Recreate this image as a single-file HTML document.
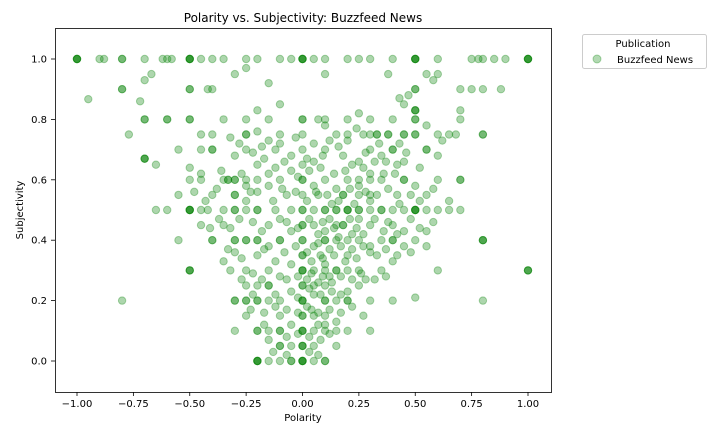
<!DOCTYPE html>
<html><head><meta charset="utf-8"><style>
body{margin:0;background:#fff;}
svg{display:block;font-family:"DejaVu Sans","Liberation Sans",sans-serif;}
</style></head><body>
<svg id="chart" width="725" height="432" viewBox="0 0 725 432" xmlns="http://www.w3.org/2000/svg">
<rect width="725" height="432" fill="#fff"/>
<text x="303" y="22" font-size="12" text-anchor="middle" fill="#000">Polarity vs. Subjectivity: Buzzfeed News</text>
<g id="points"></g>
<rect x="55.5" y="28.5" width="496" height="364" fill="none" stroke="#000" stroke-width="0.8"/>
<g id="xticks"></g>
<g id="yticks"></g>
<text x="303" y="421" font-size="10" text-anchor="middle">Polarity</text>
<text transform="translate(23,210) rotate(-90)" font-size="10" text-anchor="middle">Subjectivity</text>
<g>
<rect x="582.5" y="34.5" width="124" height="34" rx="2" fill="#fff" stroke="#ccc"/>
<text x="643" y="47" font-size="10" text-anchor="middle">Publication</text>
<circle cx="597" cy="59" r="4" fill="#008000" fill-opacity="0.3" stroke="#008000" stroke-opacity="0.3"/>
<text x="617" y="63" font-size="10">Buzzfeed News</text>
</g>
</svg>
<script>
const xTicks = [-1, -0.75, -0.5, -0.25, 0, 0.25, 0.5, 0.75, 1];
const xTickLabels = ["\u22121.00","\u22120.75","\u22120.50","\u22120.25","0.00","0.25","0.50","0.75","1.00"];
const yTicks = [0, 0.2, 0.4, 0.6, 0.8, 1.0];
const yTickLabels = ["0.0","0.2","0.4","0.6","0.8","1.0"];
const polaritySubjectivity = [
[-1,1],[-1,1],[-1,1],[-1,1],[-0.9,1],[-0.88,1],[-0.8,1],[-0.8,1],[-0.7,1],[-0.62,1],[-0.6,1],[-0.58,1],[-0.5,1],[-0.5,1],[-0.5,1],[-0.5,1],[-0.45,1],[-0.4,1],[-0.35,1],[-0.25,1],[-0.2,1],[-0.1,1],[-0.05,1],[0,1],[0,1],[0,1],[0,1],[0.05,1],[0.1,1],[0.2,1],[0.25,1],[0.3,1],[0.4,1],[0.5,1],[0.5,1],[0.5,1],[0.5,1],[0.6,1],[0.75,1],[0.78,1],[0.8,1],[0.85,1],[0.9,1],[1,1],[1,1],[1,1],[1,1],
[-0.95,0.867],[-0.7,0.93],[-0.67,0.95],[0.55,0.95],[0.6,0.95],[0.58,0.93],[0.8,0.9],[0.75,0.9],[0.7,0.9],[0.88,0.9],[-0.8,0.9],[-0.8,0.9],[-0.5,0.9],[-0.5,0.9],[-0.4,0.9],[-0.42,0.9],[-0.25,0.97],[-0.15,0.92],[-0.3,0.95],[0.1,0.95],[0.38,0.95],[0.43,0.87],[0.5,0.9],[0.5,0.9],[0.45,0.85],[0.47,0.88],[0.5,0.83],[0.5,0.83],[0.5,0.83],
[-0.7,0.8],[-0.7,0.8],[-0.72,0.86],[-0.6,0.8],[-0.6,0.8],[-0.5,0.8],[-0.5,0.8],[-0.35,0.8],[-0.25,0.8],[-0.2,0.83],[-0.15,0.8],[-0.1,0.85],[0,0.8],[0,0.8],[0.07,0.8],[0.1,0.78],[0.2,0.8],[0.25,0.82],[0.3,0.8],[0.4,0.8],[0.5,0.8],[0.5,0.8],[0.55,0.78],[0.7,0.8],[0.7,0.83],[0.8,0.75],[0.8,0.75],[-0.77,0.75],[-0.7,0.67],[-0.7,0.67],[-0.7,0.67],[-0.65,0.65],[0.6,0.75],[0.65,0.75],[0.68,0.75],[0.62,0.73],
[-0.45,0.75],[-0.4,0.75],[-0.25,0.75],[-0.25,0.75],[-0.2,0.76],[-0.15,0.73],[-0.1,0.72],[0,0.75],[0.05,0.72],[0.15,0.75],[0.2,0.73],[0.27,0.75],[0.33,0.75],[0.33,0.75],[0.38,0.75],[0.38,0.75],[0.45,0.75],[0.45,0.75],[0.5,0.75],[0.5,0.75],[0.43,0.72],
[-0.55,0.7],[-0.45,0.7],[-0.4,0.7],[-0.4,0.7],[-0.3,0.68],[-0.25,0.7],[-0.12,0.7],[-0.05,0.68],[0,0.7],[0.1,0.7],[0.18,0.68],[0.3,0.7],[0.35,0.68],[0.4,0.7],[0.4,0.7],[0.55,0.7],[0.55,0.7],[0.6,0.68],[-0.5,0.64],[-0.45,0.62],[0.05,0.66],[0.22,0.65],[0.25,0.66],[0.3,0.62],[0.42,0.65],[0.45,0.66],[-0.2,0.65],[-0.15,0.62],[-0.05,0.63],[0.08,0.64],
[-0.5,0.6],[-0.45,0.6],[-0.33,0.6],[-0.33,0.6],[-0.3,0.6],[-0.3,0.6],[-0.25,0.58],[-0.2,0.6],[-0.15,0.58],[-0.1,0.6],[0,0.6],[0,0.6],[0.05,0.58],[0.1,0.6],[0.15,0.57],[0.2,0.6],[0.25,0.58],[0.3,0.6],[0.35,0.6],[0.45,0.6],[0.45,0.6],[0.5,0.58],[0.6,0.6],[0.7,0.6],[0.7,0.6],[-0.55,0.55],[-0.4,0.55],[-0.3,0.55],[-0.3,0.55],[-0.25,0.53],[-0.07,0.55],[0.07,0.55],[0.13,0.52],[0.18,0.55],[0.18,0.55],[0.25,0.55],[0.42,0.55],[0.55,0.55],[0.65,0.53],[-0.2,0.56],[0.3,0.53],
[-0.5,0.5],[-0.5,0.5],[-0.5,0.5],[-0.5,0.5],[-0.45,0.5],[-0.42,0.5],[-0.35,0.5],[-0.3,0.5],[-0.3,0.5],[-0.25,0.5],[-0.2,0.5],[-0.2,0.5],[-0.12,0.5],[-0.05,0.5],[0,0.5],[0,0.5],[0.05,0.5],[0.1,0.5],[0.1,0.5],[0.15,0.5],[0.15,0.5],[0.2,0.5],[0.2,0.5],[0.25,0.5],[0.3,0.5],[0.35,0.5],[0.35,0.5],[0.4,0.5],[0.45,0.5],[0.5,0.5],[0.5,0.5],[0.5,0.5],[0.5,0.5],[0.55,0.5],[0.6,0.5],[0.7,0.5],[-0.6,0.5],[-0.65,0.5],[0.65,0.5],
[-0.45,0.45],[-0.35,0.45],[-0.28,0.47],[-0.15,0.45],[-0.1,0.47],[0.05,0.45],[0.1,0.43],[0.18,0.45],[0.18,0.45],[0.25,0.47],[0.3,0.45],[0.4,0.45],[0.45,0.43],[0.55,0.43],[-0.05,0.43],[0.12,0.47],[0.22,0.42],
[-0.4,0.4],[-0.4,0.4],[-0.3,0.4],[-0.3,0.4],[-0.25,0.4],[-0.25,0.4],[-0.2,0.4],[-0.2,0.4],[-0.1,0.4],[-0.1,0.4],[0,0.4],[0,0.4],[0.1,0.4],[0.1,0.4],[0.15,0.4],[0.2,0.4],[0.25,0.4],[0.35,0.4],[0.4,0.4],[0.4,0.4],[0.5,0.4],[0.8,0.4],[0.8,0.4],[0.8,0.4],[-0.55,0.4],[-0.15,0.38],[0.05,0.38],[0.3,0.38],[0.45,0.38],[0.55,0.38],
[-0.5,0.3],[-0.5,0.3],[-0.5,0.3],[-0.35,0.33],[-0.32,0.3],[-0.25,0.3],[-0.15,0.3],[-0.12,0.33],[-0.05,0.32],[0,0.3],[0,0.3],[0.05,0.3],[0.1,0.32],[0.15,0.3],[0.15,0.3],[0.2,0.3],[0.25,0.3],[0.35,0.3],[0.4,0.33],[0.6,0.3],[1,0.3],[1,0.3],[1,0.3],[-0.3,0.36],[-0.2,0.35],[0,0.35],[0.08,0.35],[0.2,0.35],[0.3,0.36],[-0.1,0.28],[0.12,0.28],[0.28,0.27],
[-0.8,0.2],[-0.3,0.2],[-0.3,0.2],[-0.25,0.2],[-0.25,0.2],[-0.2,0.2],[-0.2,0.2],[-0.15,0.2],[-0.1,0.2],[0,0.2],[0,0.2],[0.05,0.22],[0.1,0.2],[0.15,0.2],[0.2,0.2],[0.2,0.2],[0.3,0.2],[0.4,0.2],[0.5,0.21],[0.8,0.2],[-0.25,0.25],[-0.2,0.25],[-0.15,0.25],[-0.15,0.25],[0,0.25],[0.05,0.25],[0.1,0.25],[0.25,0.25],[0.2,0.23],[-0.05,0.23],
[-0.3,0.1],[-0.2,0.1],[-0.2,0.1],[-0.15,0.1],[-0.1,0.1],[-0.1,0.1],[0,0.1],[0,0.1],[0.05,0.1],[0.1,0.1],[0.15,0.1],[0.2,0.1],[0.3,0.1],[-0.25,0.15],[-0.1,0.15],[0,0.15],[0.05,0.15],[0.1,0.15],[0.15,0.13],[-0.05,0.12],[0.1,0.12],
[-0.2,0],[-0.2,0],[-0.2,0],[-0.2,0],[-0.15,0],[-0.1,0],[-0.05,0],[-0.05,0],[0,0],[0,0],[0,0],[0,0],[0.05,0],[0.1,0],[0.1,0],[-0.1,0.05],[-0.1,0.05],[-0.05,0.05],[0,0.05],[0,0.05],[0.05,0.05],[0.15,0.05],[-0.15,0.07],[0.08,0.07],
[-0.32,0.74],[-0.28,0.72],[-0.22,0.69],[-0.18,0.71],[-0.08,0.66],[-0.03,0.74],[0.02,0.67],[0.12,0.73],[0.16,0.71],[0.24,0.77],[0.28,0.69],[0.34,0.72],[0.37,0.66],[0.41,0.62],[0.46,0.69],[0.52,0.64],[-0.36,0.63],[-0.27,0.62],[-0.17,0.67],[-0.12,0.64],[-0.02,0.61],[0.03,0.63],[0.09,0.68],[0.14,0.62],[0.19,0.63],[0.27,0.64],[0.32,0.66],[0.36,0.62],
[-0.38,0.57],[-0.23,0.56],[-0.13,0.53],[-0.09,0.57],[-0.03,0.56],[0.02,0.53],[0.06,0.56],[0.11,0.55],[0.16,0.53],[0.21,0.57],[0.23,0.52],[0.28,0.56],[0.33,0.55],[0.38,0.57],[0.43,0.52],[0.48,0.55],[0.52,0.53],[0.58,0.57],[-0.43,0.53],[-0.48,0.56],
[-0.37,0.47],[-0.32,0.44],[-0.22,0.46],[-0.18,0.43],[-0.07,0.46],[-0.02,0.44],[0.03,0.47],[0.07,0.42],[0.09,0.46],[0.14,0.44],[0.16,0.41],[0.21,0.47],[0.24,0.44],[0.27,0.42],[0.32,0.47],[0.36,0.43],[0.38,0.46],[0.42,0.42],[0.48,0.47],[0.52,0.44],[0.58,0.46],[-0.41,0.44],
[-0.33,0.37],[-0.27,0.34],[-0.17,0.37],[-0.08,0.36],[-0.03,0.38],[0.02,0.36],[0.04,0.33],[0.07,0.39],[0.09,0.34],[0.12,0.37],[0.14,0.35],[0.17,0.38],[0.19,0.33],[0.22,0.37],[0.24,0.34],[0.27,0.38],[0.33,0.35],[0.37,0.37],[0.42,0.35],[0.48,0.36],
[-0.27,0.27],[-0.22,0.29],[-0.18,0.27],[-0.07,0.27],[-0.02,0.28],[0.02,0.27],[0.04,0.29],[0.07,0.26],[0.09,0.28],[0.13,0.26],[0.17,0.28],[0.22,0.27],[0.26,0.29],[0.32,0.27],[0.37,0.28],[0.03,0.24],[0.08,0.22],[0.13,0.23],[0.17,0.22],[-0.02,0.21],[-0.12,0.22],[-0.22,0.22],
[-0.23,0.17],[-0.17,0.16],[-0.12,0.18],[-0.07,0.17],[-0.02,0.16],[0.02,0.18],[0.04,0.17],[0.07,0.16],[0.12,0.17],[0.17,0.16],[0.22,0.18],[0.27,0.15],[-0.07,0.08],[-0.02,0.09],[0.03,0.08],[0.07,0.12],[0.12,0.09],[-0.17,0.12],[-0.13,0.03],[0.03,0.03],[0.07,0.02],[-0.07,0.02],
[0,0.45],[0,0.45],[0,0.35],[0,0.3],[0,0.25],[0,0.2],[0,0.15],[0,0.1],[0,0.05],[0,0.55],[0,0.65],[0.1,0.3],[0.1,0.2],[0.2,0.5],[0.25,0.5],[0.15,0.45],[0.3,0.55],[0.25,0.6],[-0.25,0.6],[-0.35,0.6],[0.1,0.8],[-0.1,0.75],[0.2,0.75],[0.3,0.75]
];
const NS = "http://www.w3.org/2000/svg";
function xScale(v){ return 77 + (v + 1) * 225.5; }
function yScale(v){ return 361 - v * 302; }
const gp = document.getElementById('points');
for (const p of polaritySubjectivity) {
  const c = document.createElementNS(NS, 'circle');
  
  
  c.setAttribute('cx', xScale(p[0]));
  c.setAttribute('cy', yScale(p[1]));
  c.setAttribute('r', 3.7);
  c.setAttribute('fill', '#008000');
  c.setAttribute('fill-opacity', '0.32');
  c.setAttribute('stroke', '#008000');
  c.setAttribute('stroke-opacity', '0.32');
  gp.appendChild(c);
}
const gx = document.getElementById('xticks');
xTicks.forEach((t, i) => {
  const x = xScale(t);
  const l = document.createElementNS(NS, 'line');
  
  
  l.setAttribute('x1', x); l.setAttribute('x2', x);
  l.setAttribute('y1', 392); l.setAttribute('y2', 396);
  l.setAttribute('stroke', '#000'); l.setAttribute('stroke-width', '0.8');
  gx.appendChild(l);
  const tx = document.createElementNS(NS, 'text');
  
  
  tx.setAttribute('x', x); tx.setAttribute('y', 407);
  tx.setAttribute('font-size', '10'); tx.setAttribute('text-anchor', 'middle');
  tx.textContent = xTickLabels[i];
  gx.appendChild(tx);
});
const gy = document.getElementById('yticks');
yTicks.forEach((t, i) => {
  const y = yScale(t);
  const l = document.createElementNS(NS, 'line');
  
  
  l.setAttribute('x1', 51); l.setAttribute('x2', 55);
  l.setAttribute('y1', y); l.setAttribute('y2', y);
  l.setAttribute('stroke', '#000'); l.setAttribute('stroke-width', '0.8');
  gy.appendChild(l);
  const tx = document.createElementNS(NS, 'text');
  
  
  tx.setAttribute('x', 47); tx.setAttribute('y', y + 3.5);
  tx.setAttribute('font-size', '10'); tx.setAttribute('text-anchor', 'end');
  tx.textContent = yTickLabels[i];
  gy.appendChild(tx);
});
</script>
</body></html>
